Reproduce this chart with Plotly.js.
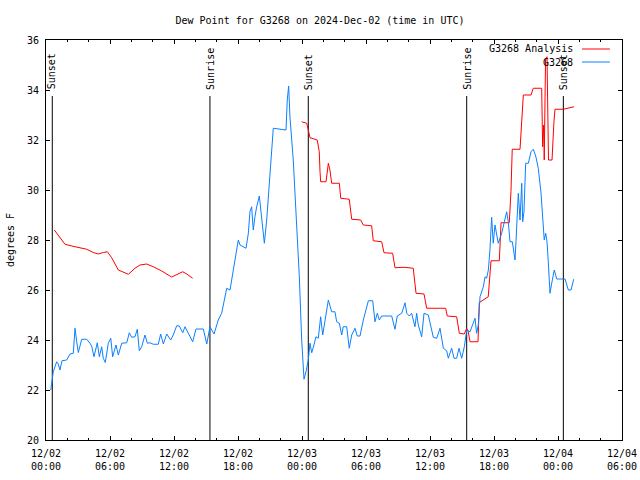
<!DOCTYPE html>
<html>
<head>
<meta charset="utf-8">
<script src="https://cdn.plot.ly/plotly-3.0.1.min.js"></script>
<style>html,body{margin:0;padding:0;background:#fff;}#chart{width:640px;height:480px;}</style>
</head>
<body>
<div id="chart"></div>
<script>
// Hours since 2024-12-02 00:00 UTC
var tickHours = [0, 6, 12, 18, 24, 30, 36, 42, 48, 54];
var tickLabels = ['12/02<br>00:00', '12/02<br>06:00', '12/02<br>12:00', '12/02<br>18:00',
                  '12/03<br>00:00', '12/03<br>06:00', '12/03<br>12:00', '12/03<br>18:00',
                  '12/04<br>00:00', '12/04<br>06:00'];

var eventHours = [0.59, 15.37, 24.59, 39.44, 48.5];
var eventLabels = ['Sunset', 'Sunrise', 'Sunset', 'Sunrise', 'Sunset'];

// G3268 Analysis (red)
var analysisHours = [0.78, 1.78, 2.41, 3.19, 3.82, 4.43, 4.90, 5.37, 5.75, 6.16, 6.78, 7.72, 8.34, 8.81, 9.44,
  10.06, 10.85, 11.78, 12.31, 12.82, 13.19, 13.75,
  null,
  23.97, 24.44, 24.59, 24.75, 25.43, 25.62, 25.69, 25.75, 26.25, 26.47, 26.62, 26.78, 27.5, 27.63, 28.43, 28.66,
  29.5, 29.75, 30.53, 30.68, 31.47, 31.69, 32.5, 32.72, 33.56, 34.43, 34.69, 35.44, 35.69, 37.47, 37.62, 38.5,
  38.75, 39.21, 39.44, 39.59, 39.75, 40.5, 40.62, 41.46, 41.72, 42.5, 42.66, 43.43, 43.59, 43.71, 44.44, 44.6,
  44.75, 45.47, 45.68, 46.47, 46.56, 46.66, 46.71, 46.83, 46.97, 47.11, 47.44, 47.62, 47.72, 48.5, 48.97, 49.5];
var analysisValues = [28.4, 27.83, 27.76, 27.7, 27.63, 27.5, 27.44, 27.5, 27.53, 27.29, 26.8, 26.63, 26.87, 27.0, 27.04,
  26.93, 26.76, 26.52, 26.63, 26.73, 26.64, 26.47,
  null,
  32.73, 32.67, 32.4, 32.09, 32.0, 31.53, 30.73, 30.33, 30.33, 31.07, 30.8, 30.27, 30.27, 29.67, 29.63, 28.83,
  28.8, 28.6, 28.57, 27.97, 27.93, 27.49, 27.47, 26.89, 26.91, 26.87, 25.87, 25.84, 25.27, 25.27, 24.96, 24.93,
  24.27, 24.24, 24.47, 24.33, 23.93, 23.93, 25.5, 25.73, 27.17, 27.17, 28.69, 28.69, 29.93, 31.63, 31.63, 32.73,
  33.8, 33.8, 34.07, 34.07, 31.73, 32.6, 31.2, 35.2, 35.33, 31.2, 31.2, 32.73, 33.23, 33.23, 33.29, 33.33];

// G3268 observations (blue)
var obsHours = [0.45, 0.68, 1.0, 1.15, 1.31, 1.5, 1.94, 2.25, 2.56, 2.72, 2.88, 3.03, 3.35, 3.82, 4.12, 4.28, 4.5,
  4.81, 5.0, 5.22, 5.37, 5.56, 5.84, 6.07, 6.25, 6.56, 6.78, 7.1, 7.57, 7.81, 8.03, 8.34, 8.56, 8.75, 8.97,
  9.28, 9.5, 9.75, 10.06, 10.53, 10.75, 11.0, 11.32, 11.69, 11.93, 12.25, 12.5, 12.82, 13.03, 13.34, 13.75,
  14.06, 14.75, 15.07, 15.37, 15.75, 16.15, 16.47, 16.78, 16.94, 17.25, 17.56, 17.81, 18.03, 18.19, 18.75,
  18.97, 19.12, 19.28, 19.43, 19.59, 19.75, 20.0, 20.22, 20.47, 20.69, 20.91, 21.16, 21.31, 22.5, 22.62,
  22.75, 22.87, 23.18, 23.5, 23.75, 23.97, 24.12, 24.19, 24.37, 24.59, 24.75, 24.91, 25.12, 25.31, 25.53,
  25.75, 25.94, 26.16, 26.47, 26.78, 27.09, 27.25, 27.5, 27.72, 27.87, 28.19, 28.43, 28.66, 28.97, 29.18,
  29.44, 29.75, 30.0, 30.22, 30.63, 30.84, 31.06, 31.25, 31.47, 32.41, 32.72, 32.93, 33.35, 33.66, 33.82,
  34.06, 34.28, 34.59, 34.75, 34.9, 35.22, 35.44, 35.84, 36.16, 36.31, 36.63, 36.94, 37.25, 37.56, 37.72,
  38.03, 38.25, 38.5, 38.72, 38.97, 39.22, 39.44, 39.75, 40.06, 40.22, 40.37, 40.53, 40.69, 41.0, 41.16,
  41.31, 41.47, 41.62, 41.78, 41.93, 42.09, 42.25, 42.4, 42.72, 42.97, 43.19, 43.34, 43.5, 43.72, 43.97,
  44.06, 44.18, 44.28, 44.44, 44.6, 44.69, 44.81, 44.97, 45.22, 45.47, 45.68, 45.91, 46.15, 46.41, 46.62,
  46.71, 46.85, 46.97, 47.09, 47.25, 47.41, 47.65, 47.88, 48.66, 48.97, 49.22, 49.47];
var obsValues = [22.0, 22.73, 23.13, 23.04, 22.8, 23.17, 23.2, 23.44, 23.47, 24.47, 23.93, 23.5, 24.03, 24.03, 23.87, 23.76, 23.33,
  23.89, 23.33, 23.73, 23.27, 23.1, 23.87, 24.07, 23.33, 23.8, 23.4, 23.87, 23.89, 24.29, 24.11, 24.13, 24.43, 23.57, 23.73,
  24.2, 23.87, 23.89, 23.83, 23.83, 24.24, 23.84, 24.24, 24.0, 24.2, 24.57, 24.56, 24.29, 24.53, 24.27, 23.93,
  24.44, 24.44, 23.84, 24.53, 24.24, 24.8, 25.07, 25.73, 26.07, 26.0, 26.8, 27.53, 28.0, 27.8, 27.67,
  28.27, 29.13, 29.33, 28.4, 28.93, 29.33, 29.76, 28.93, 27.87, 28.8, 30.13, 31.73, 32.47, 32.4, 33.6,
  34.16, 32.93, 31.2, 28.8, 26.53, 24.0, 22.73, 22.43, 22.73, 23.2, 23.87, 23.49, 23.8, 24.13, 24.07,
  24.93, 24.2, 24.87, 25.6, 25.13, 25.13, 24.73, 24.67, 24.2, 24.53, 24.53, 23.67, 24.2, 24.47, 24.16,
  24.16, 24.8, 25.27, 25.57, 25.57, 24.73, 25.07, 24.8, 24.96, 24.96, 24.43, 24.96, 25.07, 25.49, 25.07,
  24.96, 25.07, 24.53, 25.07, 24.6, 24.13, 25.07, 25.0, 24.4, 24.11, 24.07, 24.47, 23.67, 23.57, 23.27,
  23.67, 23.27, 23.27, 23.67, 23.27, 23.73, 24.4, 24.33, 24.67, 24.87, 24.27, 24.6, 25.73, 26.13, 26.53,
  26.47, 26.8, 27.6, 28.91, 27.87, 28.6, 28.27, 27.87, 28.27, 28.8, 29.13, 28.73, 27.93, 27.93, 27.2,
  27.93, 29.07, 29.87, 28.8, 30.27, 28.73, 29.13, 31.07, 31.07, 31.53, 31.63, 31.36, 30.87, 29.87, 28.33,
  28.0, 28.27, 27.93, 27.13, 25.87, 26.27, 26.8, 26.44, 26.44, 26.0, 26.0, 26.43];

var seriesNames = ['G3268 Analysis', 'G3268'];
var seriesColors = ['#ff0000', '#0a80ff'];

var FONT = 'DejaVu Sans Mono, Liberation Mono, monospace';

var traces = [
  {x: analysisHours, y: analysisValues, name: seriesNames[0], type: 'scatter', mode: 'lines',
   line: {color: seriesColors[0], width: 1}, connectgaps: false, showlegend: false, hoverinfo: 'skip'},
  {x: obsHours, y: obsValues, name: seriesNames[1], type: 'scatter', mode: 'lines',
   line: {color: seriesColors[1], width: 1}, showlegend: false, hoverinfo: 'skip'}
];

var shapes = [];
var annotations = [];
eventHours.forEach(function (h, i) {
  shapes.push({type: 'line', xref: 'x', yref: 'paper', x0: h, x1: h, y0: 0, y1: 0.86,
               line: {color: '#000', width: 1}, layer: 'below'});
  var first = (i === 0);
  annotations.push({xref: 'x', yref: 'paper', x: h, y: first ? 0.9725 : 0.87,
                    yanchor: first ? 'top' : 'bottom', xanchor: 'center',
                    text: eventLabels[i], textangle: -90, showarrow: false,
                    font: {family: FONT, size: 10, color: '#000'}});
});

// legend (gnuplot style: text then sample line)
var legendY = [0.9775, 0.945];
seriesNames.forEach(function (n, i) {
  annotations.push({xref: 'paper', yref: 'paper', x: 0.919, y: legendY[i], xanchor: 'right', yanchor: 'middle',
                    text: n, showarrow: false, font: {family: FONT, size: 10, color: '#000'}});
  shapes.push({type: 'line', xref: 'paper', yref: 'paper', x0: 0.9306, x1: 0.979, y0: legendY[i], y1: legendY[i],
               line: {color: seriesColors[i], width: 1}});
});

var layout = {
  width: 640, height: 480,
  margin: {l: 46, r: 18, t: 40, b: 40},
  paper_bgcolor: '#fff', plot_bgcolor: '#fff',
  font: {family: FONT, size: 10, color: '#000'},
  title: {text: 'Dew Point for G3268 on 2024-Dec-02 (time in UTC)', x: 0.5, xanchor: 'center',
          y: 0.958, yanchor: 'middle', font: {family: FONT, size: 10, color: '#000'}},
  xaxis: {range: [0, 54], tickmode: 'array', tickvals: tickHours, ticktext: tickLabels,
          ticks: 'inside', ticklen: 4, tickwidth: 1, tickcolor: '#000',
          minor: {dtick: 2, tick0: 0, ticks: 'inside', ticklen: 2, tickcolor: '#000'},
          showline: true, linecolor: '#000', linewidth: 1, mirror: 'allticks',
          showgrid: false, zeroline: false, ticklabelstandoff: 4,
          tickfont: {family: FONT, size: 10, color: '#000'}},
  yaxis: {range: [20, 36], tickmode: 'linear', tick0: 20, dtick: 2,
          ticks: 'inside', ticklen: 4, tickwidth: 1, tickcolor: '#000',
          showline: true, linecolor: '#000', linewidth: 1, mirror: 'allticks',
          showgrid: false, zeroline: false, ticklabelstandoff: 4,
          tickfont: {family: FONT, size: 10, color: '#000'},
          title: {text: 'degrees F', standoff: 10, font: {family: FONT, size: 10, color: '#000'}}},
  shapes: shapes,
  annotations: annotations
};

Plotly.newPlot('chart', traces, layout, {staticPlot: true, displayModeBar: false});
</script>
</body>
</html>
